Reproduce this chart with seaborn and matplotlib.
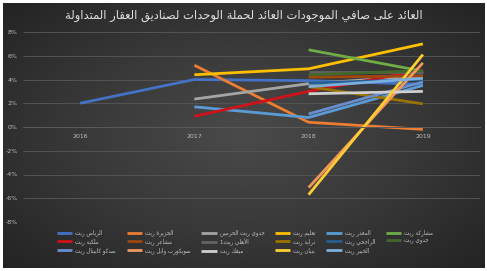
import numpy as np
import pandas as pd
import matplotlib
matplotlib.use("Agg")
import matplotlib.pyplot as plt
from matplotlib.lines import Line2D
from matplotlib.colors import LinearSegmentedColormap
import seaborn as sns

# ---------------- data ----------------
years = [2016, 2017, 2018, 2019]
title = "العائد على صافي الموجودات العائد لحملة الوحدات لصناديق العقار المتداولة"
funds = ["الرياض ريت", "الجزيرة ريت", "جدوى ريت الحرمين", "تعليم ريت", "المعذر ريت", "مشاركة ريت",
         "ملكية ريت", "مشاعر ريت", "الأهلي ريت1", "دراية ريت", "الراجحي ريت", "جدوى ريت",
         "سدكو كابيتال ريت", "سويكورب وابل ريت", "ميفك ريت", "بنيان ريت", "الخبير ريت"]
riyad      = [2.0, 4.0, 3.9, 3.6]
jazira     = [None, 5.2, 0.4, -0.2]
jadwa_h    = [None, 2.35, 3.65, 4.3]
taleem     = [None, 4.4, 4.9, 7.0]
maather    = [None, 1.7, 0.8, 3.5]
musharaka  = [None, None, 6.5, 4.7]
mulkia     = [None, 0.9, 3.0, 4.8]
mashaer    = [None, None, 4.2, 4.3]
ahli       = [None, None, 4.6, 4.6]
derayah    = [None, None, 3.4, 1.95]
rajhi      = [None, None, 3.7, 4.0]
jadwa      = [None, None, 4.4, 4.75]
sedco      = [None, None, 1.1, 3.8]
swicorp    = [None, None, -5.1, 5.4]
mefic      = [None, None, 2.8, 3.0]
bonyan     = [None, None, -5.7, 6.1]
khabeer    = [None, None, 3.4, 4.1]
series = [riyad, jazira, jadwa_h, taleem, maather, musharaka, mulkia, mashaer, ahli,
          derayah, rajhi, jadwa, sedco, swicorp, mefic, bonyan, khabeer]
colors = ["#4472C4", "#ED7D31", "#A5A5A5", "#FFC000", "#5B9BD5", "#70AD47",
          "#D0121B", "#9E480E", "#636363", "#997300", "#255E91", "#43682B",
          "#698ED0", "#F1975A", "#CFCFCF", "#FFCD33", "#7CAFDD"]
y_ticks = [-8, -6, -4, -2, 0, 2, 4, 6, 8]

# ---------------- arabic shaping for display ----------------
_L = [('ء', 0xFE80, 1), ('آ', 0xFE81, 2), ('أ', 0xFE83, 2), ('ؤ', 0xFE85, 2), ('إ', 0xFE87, 2),
      ('ئ', 0xFE89, 4), ('ا', 0xFE8D, 2), ('ب', 0xFE8F, 4), ('ة', 0xFE93, 2), ('ت', 0xFE95, 4),
      ('ث', 0xFE99, 4), ('ج', 0xFE9D, 4), ('ح', 0xFEA1, 4), ('خ', 0xFEA5, 4), ('د', 0xFEA9, 2),
      ('ذ', 0xFEAB, 2), ('ر', 0xFEAD, 2), ('ز', 0xFEAF, 2), ('س', 0xFEB1, 4), ('ش', 0xFEB5, 4),
      ('ص', 0xFEB9, 4), ('ض', 0xFEBD, 4), ('ط', 0xFEC1, 4), ('ظ', 0xFEC5, 4), ('ع', 0xFEC9, 4),
      ('غ', 0xFECD, 4), ('ف', 0xFED1, 4), ('ق', 0xFED5, 4), ('ك', 0xFED9, 4), ('ل', 0xFEDD, 4),
      ('م', 0xFEE1, 4), ('ن', 0xFEE5, 4), ('ه', 0xFEE9, 4), ('و', 0xFEED, 2), ('ى', 0xFEEF, 2),
      ('ي', 0xFEF1, 4)]
_FORMS = {c: (b, n) for c, b, n in _L}
_LIG = {'آ': 0xFEF5, 'أ': 0xFEF7, 'إ': 0xFEF9, 'ا': 0xFEFB}


def shape(s):
    units = []
    i = 0
    while i < len(s):
        c = s[i]
        if c == 'ل' and i + 1 < len(s) and s[i + 1] in _LIG:
            units.append(('a', _LIG[s[i + 1]], 2))
            i += 2
            continue
        if c in _FORMS:
            units.append(('a',) + _FORMS[c])
        else:
            units.append(('r', c, 0))
        i += 1
    out = []
    for k, u in enumerate(units):
        if u[0] == 'r':
            out.append(u[1])
            continue
        base, n = u[1], u[2]
        prev = units[k - 1] if k > 0 else None
        nxt = units[k + 1] if k + 1 < len(units) else None
        jp = prev is not None and prev[0] == 'a' and prev[2] == 4
        jn = n == 4 and nxt is not None and nxt[0] == 'a' and nxt[2] >= 2
        if n == 1:
            f = 0
        elif n == 2:
            f = 1 if jp else 0
        else:
            f = (3 if jn else 1) if jp else (2 if jn else 0)
        out.append(chr(base + f))
    return ''.join(reversed(out))


# ---------------- dataframe ----------------
rows = []
for name, vals in zip(funds, series):
    for yr, v in zip(years, vals):
        if v is not None:
            rows.append({"year": yr, "value": v, "fund": name})
df = pd.DataFrame(rows)
palette = dict(zip(funds, colors))

# ---------------- figure ----------------
sns.set_theme(style="dark")
plt.rcParams['font.family'] = ['DejaVu Sans']
plt.rcParams['lines.solid_capstyle'] = 'butt'

W, H = 487, 271
fig = plt.figure(figsize=(W / 100, H / 100), dpi=100, facecolor="white")

# background radial gradient
bg = fig.add_axes([0.006, 0.012, 0.988, 0.978], zorder=-10)
yy, xx = np.mgrid[-1:1:200j, -1:1:360j]
r = np.sqrt((xx * 0.95) ** 2 + (yy * 0.9) ** 2)
cmap = LinearSegmentedColormap.from_list("bg", ["#4a4a4a", "#383838", "#222222"])
bg.imshow(r, cmap=cmap, vmin=0, vmax=1.35, aspect="auto", interpolation="bilinear")
bg.set_axis_off()

ax = fig.add_axes([23 / W, 1 - 222 / H, (480 - 23) / W, (222 - 32) / H])
ax.set_facecolor("none")
ax.patch.set_alpha(0)

sns.lineplot(data=df, x="year", y="value", hue="fund", hue_order=funds, palette=palette,
             linewidth=2.0, legend=False, errorbar=None, ax=ax)

ax.set_xlim(2015.5, 2019.5)
ax.set_ylim(-8, 8)
ax.set_yticks(y_ticks)
ax.set_yticklabels([f"{t}%" for t in y_ticks])
ax.set_xticks(years)
ax.set_xticklabels([str(y) for y in years])
ax.grid(axis="y", color="#545454", linewidth=0.7)
ax.grid(axis="x", visible=False)
for s in ["top", "right", "left"]:
    ax.spines[s].set_visible(False)
ax.spines["bottom"].set_position(("data", 0))
ax.spines["bottom"].set_color("#5a5a5a")
ax.spines["bottom"].set_linewidth(0.7)
ax.tick_params(axis="x", length=0, pad=5, labelsize=4.5, labelcolor="#bdbdbd")
ax.tick_params(axis="y", length=0, pad=4, labelsize=4.5, labelcolor="#bdbdbd")
ax.set_xlabel("")
ax.set_ylabel("")

fig.text(0.5, 1 - 16 / H, shape(title), ha="center", va="center", fontsize=8.3,
         color="#e0e0e0")

# legend (row-wise like the original)
handles = [Line2D([0], [0], color=c, lw=2.0) for c in colors]
labels = [shape(f) for f in funds]
order = [0, 6, 12, 1, 7, 13, 2, 8, 14, 3, 9, 15, 4, 10, 16, 5, 11]
fig.legend([handles[i] for i in order], [labels[i] for i in order], ncol=6, loc="center",
           bbox_to_anchor=(245 / W, 1 - 242 / H), frameon=False, fontsize=4,
           labelcolor="#c0c0c0", handlelength=2.8, handletextpad=0.5,
           columnspacing=1.9, labelspacing=0.35)

fig.savefig("out.png", dpi=100, facecolor="white")
